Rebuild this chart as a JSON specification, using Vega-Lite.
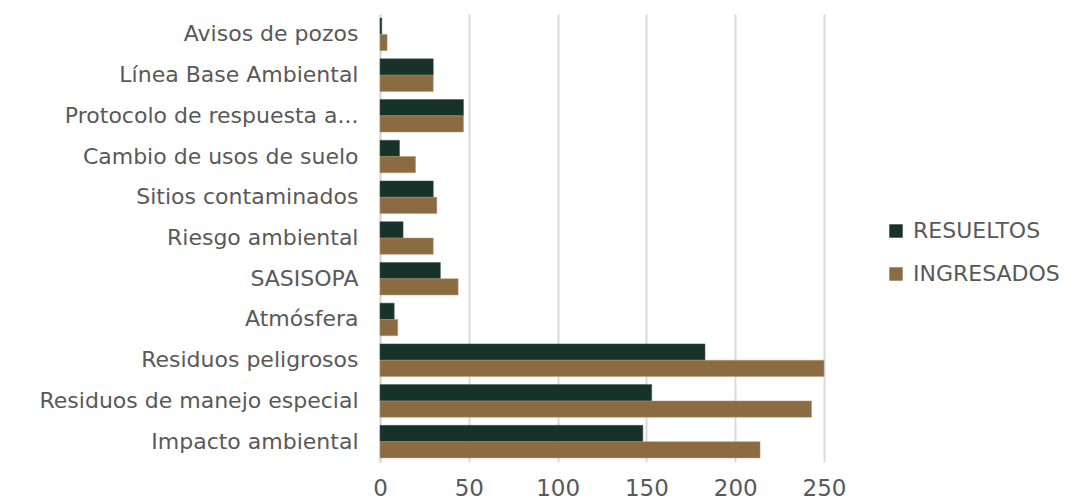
{
  "$schema": "https://vega.github.io/schema/vega-lite/v6.json",
  "width": 444,
  "height": 448,
  "autosize": "none",
  "padding": {"left": 380, "top": 14, "right": 249, "bottom": 38},
  "background": "white",
  "config": {
    "font": "DejaVu Sans",
    "view": {"stroke": null}
  },
  "data": {
    "values": [
      {"cat": "Avisos de pozos", "serie": "RESUELTOS", "valor": 1},
      {"cat": "Avisos de pozos", "serie": "INGRESADOS", "valor": 4},
      {"cat": "Línea Base Ambiental", "serie": "RESUELTOS", "valor": 30},
      {"cat": "Línea Base Ambiental", "serie": "INGRESADOS", "valor": 30},
      {"cat": "Protocolo de respuesta a...", "serie": "RESUELTOS", "valor": 47},
      {"cat": "Protocolo de respuesta a...", "serie": "INGRESADOS", "valor": 47},
      {"cat": "Cambio de usos de suelo", "serie": "RESUELTOS", "valor": 11},
      {"cat": "Cambio de usos de suelo", "serie": "INGRESADOS", "valor": 20},
      {"cat": "Sitios contaminados", "serie": "RESUELTOS", "valor": 30},
      {"cat": "Sitios contaminados", "serie": "INGRESADOS", "valor": 32},
      {"cat": "Riesgo ambiental", "serie": "RESUELTOS", "valor": 13},
      {"cat": "Riesgo ambiental", "serie": "INGRESADOS", "valor": 30},
      {"cat": "SASISOPA", "serie": "RESUELTOS", "valor": 34},
      {"cat": "SASISOPA", "serie": "INGRESADOS", "valor": 44},
      {"cat": "Atmósfera", "serie": "RESUELTOS", "valor": 8},
      {"cat": "Atmósfera", "serie": "INGRESADOS", "valor": 10},
      {"cat": "Residuos peligrosos", "serie": "RESUELTOS", "valor": 183},
      {"cat": "Residuos peligrosos", "serie": "INGRESADOS", "valor": 250},
      {"cat": "Residuos de manejo especial", "serie": "RESUELTOS", "valor": 153},
      {"cat": "Residuos de manejo especial", "serie": "INGRESADOS", "valor": 243},
      {"cat": "Impacto ambiental", "serie": "RESUELTOS", "valor": 148},
      {"cat": "Impacto ambiental", "serie": "INGRESADOS", "valor": 214}
    ]
  },
  "mark": {"type": "bar", "strokeWidth": 0.5},
  "encoding": {
    "y": {
      "field": "cat",
      "type": "nominal",
      "sort": null,
      "scale": {"paddingInner": 0.2, "paddingOuter": 0.1},
      "axis": {
        "title": null,
        "ticks": false,
        "domain": true,
        "domainColor": "#d9d9d9",
        "domainWidth": 2,
        "labelFontSize": 22,
        "labelColor": "#595959",
        "labelPadding": 22,
        "labelLimit": 400
      }
    },
    "x": {
      "field": "valor",
      "type": "quantitative",
      "scale": {"domain": [0, 250], "nice": false},
      "axis": {
        "title": null,
        "values": [0, 50, 100, 150, 200, 250],
        "ticks": false,
        "domain": false,
        "grid": true,
        "gridColor": "#d9d9d9",
        "gridWidth": 2,
        "labelFontSize": 23,
        "labelColor": "#595959",
        "labelPadding": 15,
        "labelFlush": false
      }
    },
    "yOffset": {
      "field": "serie",
      "type": "nominal",
      "sort": ["RESUELTOS", "INGRESADOS"],
      "scale": {"paddingInner": 0, "paddingOuter": 0}
    },
    "color": {
      "field": "serie",
      "type": "nominal",
      "sort": ["RESUELTOS", "INGRESADOS"],
      "scale": {"domain": ["RESUELTOS", "INGRESADOS"], "range": ["#163229", "#8b6b42"]},
      "legend": {
        "title": null,
        "orient": "none",
        "legendX": 505,
        "legendY": 206,
        "symbolType": "square",
        "symbolSize": 180,
        "symbolStrokeWidth": 0,
        "labelFontSize": 22,
        "labelColor": "#595959",
        "rowPadding": 21,
        "labelOffset": 6
      }
    },
    "stroke": {
      "field": "serie",
      "type": "nominal",
      "scale": {"domain": ["RESUELTOS", "INGRESADOS"], "range": ["#3d5a52", "#b89a73"]},
      "legend": null
    }
  }
}
